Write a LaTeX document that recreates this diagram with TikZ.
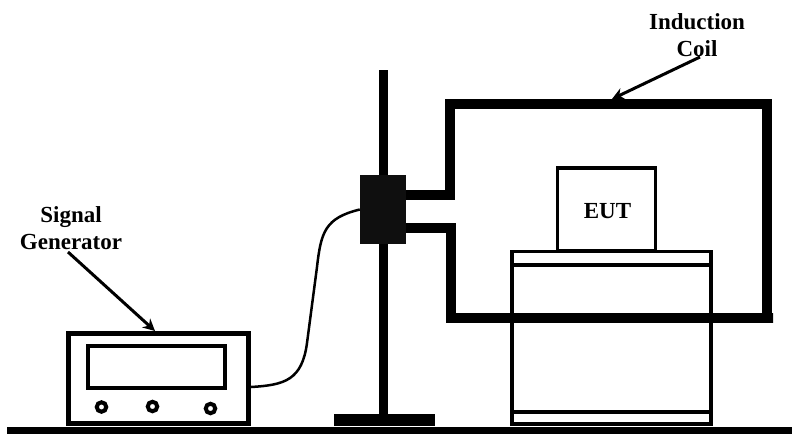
\documentclass[tikz,border=0pt]{standalone}
\usepackage{fontspec}
\setmainfont{Liberation Serif}
\usetikzlibrary{arrows.meta}

\tikzset{
    box/.style={draw, line width=3.3pt, inner sep=0pt, minimum width=#1},
    lbl/.style={align=center, inner sep=0pt, font=\bfseries\fontsize{23}{27}\selectfont},
    pointer/.style={line width=3pt, -{Stealth[length=12pt, width=12pt]}}
}

\begin{document}
\begin{tikzpicture}[x=1pt, y=-1pt]

        \useasboundingbox (0,0) rectangle (792,434);

        % Bench
        \fill (7,427) rectangle (792,434);

        % Signal generator
        \node[box=180pt, line width=5pt, minimum height=90pt] (gen) at (158.5,378.5) {};
        \node[box=137pt, line width=3.5pt, minimum height=42pt] (screen) at (156.5,367) {};
        \foreach \x/\y/\n in {101.5/407/a, 152.5/406.5/b, 210.5/408.5/c}
            \node[draw, circle, line width=4pt, inner sep=0pt, minimum size=9.5pt] (knob\n) at (\x,\y) {};

        % Stand
        \fill (378.7,70) rectangle (388.3,416);
        \fill (334,414) rectangle (435,426);

        % Table
        \node[box=199pt, minimum height=172.5pt] (table) at (611.5,337.75) {};
        \draw[line width=3.3pt] (512,265) -- (711,265);
        \draw[line width=4pt] (512,411.5) -- (711,411.5);

        % EUT
        \node[box=98.5pt, minimum height=83pt] (eut) at (606.5,209.5) {};
        \node[lbl] (eutlbl) at (607.5,211) {EUT};

        % Induction coil
        \coordinate (coilup) at (406,195);
        \coordinate (coildown) at (406,228);
        \draw[line width=10pt, miter limit=10] (coilup) -- (450,195) -- (450,104) -- (767,104)
            -- (767,318) -- (773,318) -- (451,318) -- (451,228) -- (coildown);

        % Clamp on the stand
        \node[fill=black!94, inner sep=0pt, minimum width=46pt, minimum height=69pt] (clamp) at (383,209.5) {};

        % Cable
        \coordinate (genout) at (251,387);
        \draw[line width=2.5pt] (genout) .. controls (285,385) and (302,380) .. (307,343)
            -- (317,267) .. controls (321,232) and (325,218) .. (clamp.west);

        % Labels
        \node[lbl] (siglbl) at (71,228) {Signal\\Generator};
        \node[lbl] (coillbl) at (697,35) {Induction\\Coil};

        % Pointers
        \coordinate (sigfrom) at (68,252);
        \coordinate (sigto) at (155,331);
        \coordinate (coilfrom) at (700,57);
        \coordinate (coilto) at (612,99);
        \draw[pointer] (sigfrom) -- (sigto);
        \draw[pointer] (coilfrom) -- (coilto);

\end{tikzpicture}
\end{document}
